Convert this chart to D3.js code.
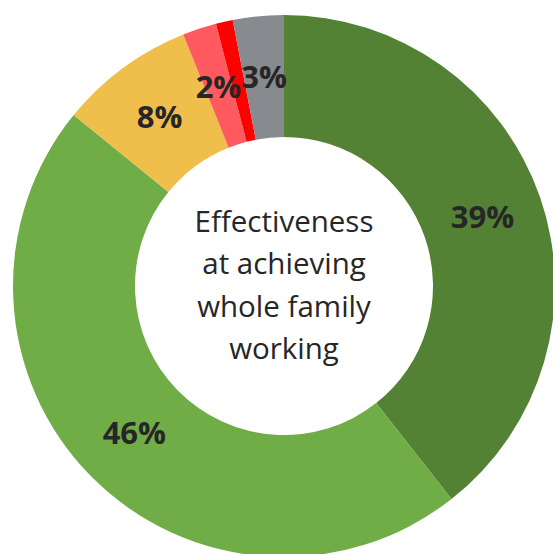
<!DOCTYPE html>
<html>
<head>
<meta charset="utf-8">
<script src="https://cdn.jsdelivr.net/npm/d3@7"></script>
<style>
  html, body { margin: 0; padding: 0; background: #ffffff; }
  svg { display: block; }
</style>
</head>
<body>
<svg id="chart" width="553" height="554"></svg>
<script>
// Ratings of effectiveness, in drawing order (clockwise from 12 o'clock)
const categories = ["Very effective", "Effective", "Neither", "Ineffective", "Very ineffective", "Don't know"];
const values = [39, 46, 8, 2, 1, 3];
const labels = ["39%", "46%", "8%", "2%", "", "3%"];
const colors = ["#548235", "#70AD47", "#F0BE4A", "#FF5A5F", "#FF0000", "#878A8E"];
const centerLines = ["Effectiveness", "at achieving", "whole family", "working"];

const svg = d3.select("#chart");
const cx = 284, cy = 286;
const outerR = 271, innerR = 149;

const color = d3.scaleOrdinal().domain(categories).range(colors);

const pie = d3.pie().sort(null).value(d => d.value);
const data = categories.map((c, i) => ({ category: c, value: values[i], label: labels[i] }));
const arcs = pie(data);

const arc = d3.arc().innerRadius(innerR).outerRadius(outerR);

const g = svg.append("g").attr("transform", `translate(${cx},${cy})`);

g.selectAll("path.slice")
  .data(arcs)
  .join("path")
  .attr("class", "slice")
  .attr("d", arc)
  .attr("fill", d => color(d.data.category));

// Percentage labels at the middle of each ring segment
g.selectAll("text.pct")
  .data(arcs.filter(d => d.data.label))
  .join("text")
  .attr("class", "pct")
  .attr("transform", d => `translate(${arc.centroid(d)})`)
  .attr("text-anchor", "middle")
  .attr("dy", "0.36em")
  .attr("font-family", "'Open Sans', sans-serif")
  .attr("font-weight", 700)
  .attr("font-size", 31)
  .attr("fill", "#262626")
  .text(d => d.data.label);

// Title inside the hole
const lineH = 42.3;
const firstBaseline = 232 - cy;
g.append("text")
  .attr("text-anchor", "middle")
  .attr("font-family", "'Open Sans', sans-serif")
  .attr("font-size", 29.5)
  .attr("fill", "#262626")
  .selectAll("tspan")
  .data(centerLines)
  .join("tspan")
  .attr("x", 0)
  .attr("y", (d, i) => firstBaseline + i * lineH)
  .text(d => d);
</script>
</body>
</html>
